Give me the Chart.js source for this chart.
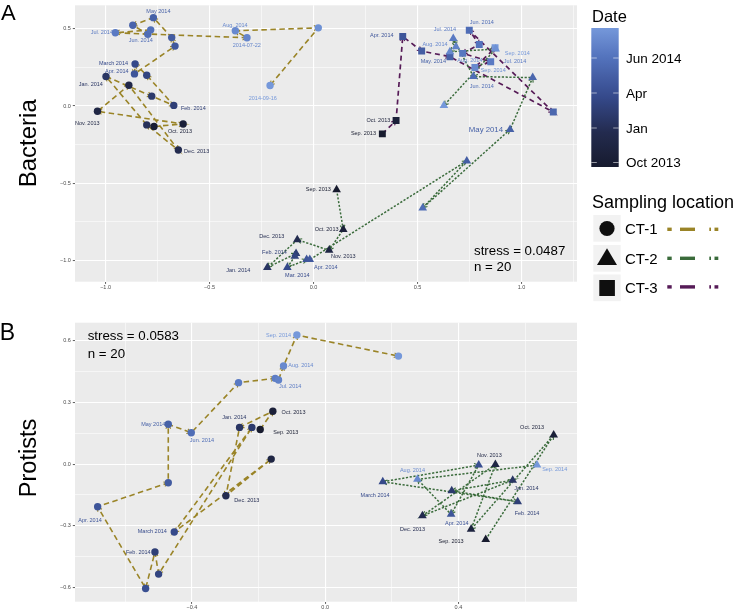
<!DOCTYPE html>
<html>
<head>
<meta charset="utf-8">
<script src="https://cdn.jsdelivr.net/npm/chart.js@4.4.1/dist/chart.umd.min.js"></script>
<style>
  body { margin: 0; width: 738px; height: 609px; overflow: hidden; background: #fff; position: relative; font-family: "Liberation Sans", Arial, sans-serif; }
  canvas { position: absolute; left: 0; }
  #bacteria { top: 0; }
  #protists { top: 300px; }
  #overlay { position: absolute; left: 0; top: 0; pointer-events: none; }
  #overlay text { font-family: "Liberation Sans", Arial, sans-serif; }
</style>
</head>
<body>
<canvas id="bacteria" width="738" height="300"></canvas>
<canvas id="protists" width="738" height="320"></canvas>

<svg id="overlay" width="738" height="609">
  <defs><linearGradient id="dateBar" x1="0" y1="1" x2="0" y2="0"></linearGradient></defs>
  <text x="8.3" y="12.8" font-size="22" text-anchor="middle" dominant-baseline="central">A</text>
  <text x="7.5" y="332.3" font-size="23" text-anchor="middle" dominant-baseline="central">B</text>
  <text transform="translate(27,143.3) rotate(-90)" font-size="24" text-anchor="middle" dominant-baseline="central">Bacteria</text>
  <text transform="translate(27.5,458) rotate(-90)" font-size="23.5" text-anchor="middle" dominant-baseline="central">Protists</text>

  <text x="474" y="250.7" font-size="13.3" dominant-baseline="central">stress = 0.0487</text>
  <text x="474" y="266.7" font-size="13.3" dominant-baseline="central">n = 20</text>
  <text x="87.7" y="335.7" font-size="13.3" dominant-baseline="central">stress = 0.0583</text>
  <text x="87.7" y="353" font-size="13.3" dominant-baseline="central">n = 20</text>

  <!-- colour bar legend -->
  <text x="592" y="16" font-size="16.5" dominant-baseline="central">Date</text>
  <rect x="591.3" y="28" width="27.4" height="139" fill="url(#dateBar)"></rect>
  <g id="barTicks" stroke="rgba(255,255,255,0.55)" stroke-width="1"></g>
  <g id="barLabels" font-size="13.5"></g>

  <!-- shape / linetype legend -->
  <text x="592" y="202" font-size="18" dominant-baseline="central">Sampling location</text>
  <rect x="593.3" y="215" width="27.4" height="26.7" fill="#f2f2f2"></rect>
  <rect x="593.3" y="245" width="27.4" height="26.7" fill="#f2f2f2"></rect>
  <rect x="593.3" y="274.5" width="27.4" height="26.7" fill="#f2f2f2"></rect>
  <circle cx="607" cy="228.5" r="7.6" fill="#0f0f0f"></circle>
  <polygon points="597,265 617,265 607,248.3" fill="#0f0f0f"></polygon>
  <rect x="599.3" y="280" width="15.6" height="16" fill="#0f0f0f"></rect>
  <text x="625" y="228.8" font-size="15" dominant-baseline="central">CT-1</text>
  <text x="625" y="258.3" font-size="15" dominant-baseline="central">CT-2</text>
  <text x="625" y="287.5" font-size="15" dominant-baseline="central">CT-3</text>
  <g id="keyLines"></g>
</svg>

<script>
// ---- axis breaks (every other value is a labelled major, the rest minor grid) ----
const xBreaksA = [-1, -0.75, -0.5, -0.25, 0, 0.25, 0.5, 0.75, 1, 1.25];
const yBreaksA = [-1, -0.75, -0.5, -0.25, 0, 0.25, 0.5];
const xBreaksB = [-0.6, -0.4, -0.2, 0, 0.2, 0.4, 0.6];
const yBreaksB = [-0.6, -0.45, -0.3, -0.15, 0, 0.15, 0.3, 0.45, 0.6];
const xLimA = [-1.147, 1.267], yLimA = [-1.137, 0.652];
const xLimB = [-0.751, 0.756], yLimB = [-0.668, 0.686];

// dates are months since Sep 2013 (0) .. Sep 2014 (12)
// Bacteria NMDS
const bactCT1x = [-0.767, -0.627, -1.039, -0.888, -0.650, -0.802, -0.998, -0.778, -0.672, -0.802, -0.858, -0.861, -0.666, -0.682, -0.770, -0.869, -0.797, -0.783, -0.953, -0.320, -0.376, 0.023, -0.209];
const bactCT1y = [-0.132, -0.116, -0.034, 0.135, -0.285, -0.122, 0.191, 0.064, 0.004, 0.199, 0.272, 0.208, 0.388, 0.443, 0.572, 0.523, 0.465, 0.493, 0.474, 0.442, 0.487, 0.506, 0.133];
const bactCT1date = [0.5, 1, 2, 2.5, 3, 3.5, 4, 4.5, 5, 5.5, 6, 7, 7.3, 7.6, 8, 8.3, 9, 9.3, 10, 10.7, 11, 11.5, 12.5];

const bactCT2x = [0.111, 0.143, 0.075, -0.078, -0.222, -0.084, -0.090, -0.126, -0.033, -0.018, 0.737, 0.525, 0.945, 1.054, 0.769, 0.672, 0.685, 0.656, 0.876, 0.627];
const bactCT2y = [-0.542, -0.799, -0.934, -0.865, -1.045, -0.955, -0.973, -1.045, -0.994, -0.994, -0.355, -0.660, -0.152, 0.184, 0.191, 0.437, 0.384, 0.351, 0.369, 0.004];
const bactCT2date = [0, 1, 2, 3, 4, 5, 5.5, 6, 7, 7.3, 7.8, 9, 8, 8.5, 9, 10, 10.5, 11, 11.5, 12.5];

const bactCT3x = [0.331, 0.397, 0.429, 0.520, 0.656, 1.153, 0.749, 0.797, 0.717, 0.852, 0.776, 0.873];
const bactCT3y = [-0.180, -0.094, 0.450, 0.356, 0.319, -0.039, 0.491, 0.398, 0.341, 0.287, 0.249, 0.377];
const bactCT3date = [0, 1, 7, 7.8, 8, 8.5, 9, 9.5, 9.8, 10, 11, 12];

// Protists NMDS
const protCT1x = [-0.195, -0.157, -0.257, -0.298, -0.162, -0.453, -0.220, -0.500, -0.511, -0.539, -0.683, -0.471, -0.471, -0.402, -0.260, -0.150, -0.140, -0.125, -0.085, 0.220];
const protCT1y = [0.168, 0.256, 0.178, -0.154, 0.024, -0.330, 0.178, -0.534, -0.427, -0.604, -0.207, -0.091, 0.193, 0.152, 0.395, 0.416, 0.408, 0.476, 0.626, 0.524];
const protCT1date = [0, 1, 4, 3, 2, 6, 4.5, 5.5, 5, 6.5, 7, 7.5, 8, 9, 10, 10.2, 10.5, 11, 12, 12.5];

const protCT2x = [0.482, 0.686, 0.438, 0.511, 0.292, 0.563, 0.380, 0.578, 0.173, 0.461, 0.378, 0.277, 0.636];
const protCT2y = [-0.366, 0.141, -0.317, -0.002, -0.251, -0.078, -0.130, -0.183, -0.086, -0.005, -0.244, -0.074, -0.005];
const protCT2date = [0, 1, 1.5, 2, 3, 4, 4.5, 5, 6, 6.5, 7, 11, 12];

// point labels: text, x, y, date
const bactLabels = [
  ['May 2014', -0.746, 0.615, 8], ['Jul. 2014', -1.018, 0.474, 10], ['Jun. 2014', -0.831, 0.424, 9],
  ['Aug. 2014', -0.377, 0.523, 11], ['2014-07-22', -0.321, 0.395, 10.7], ['2014-09-16', -0.244, 0.049, 12.5],
  ['March 2014', -0.962, 0.274, 6], ['Apr. 2014', -0.946, 0.225, 7], ['Jan. 2014', -1.071, 0.141, 4],
  ['Feb. 2014', -0.578, -0.017, 5], ['Nov. 2013', -1.088, -0.116, 2], ['Oct. 2013', -0.642, -0.163, 1],
  ['Dec. 2013', -0.562, -0.291, 3],
  ['Sep. 2013', 0.023, -0.542, 0], ['Oct. 2013', 0.063, -0.801, 1], ['Nov. 2013', 0.143, -0.977, 2],
  ['Dec. 2013', -0.201, -0.842, 3], ['Feb. 2014', -0.188, -0.951, 5], ['Apr. 2014', 0.059, -1.043, 7],
  ['Mar. 2014', -0.078, -1.099, 6], ['Jan. 2014', -0.362, -1.067, 4], ['May 2014', 0.829, -0.156, 8],
  ['Jun. 2014', 0.809, 0.127, 9], ['Jul. 2014', 0.632, 0.497, 10], ['Aug. 2014', 0.584, 0.398, 11],
  ['Sep. 2014', 0.864, 0.227, 11.5],
  ['Apr. 2014', 0.328, 0.459, 7], ['Oct. 2013', 0.312, -0.094, 1], ['Sep. 2013', 0.240, -0.180, 0],
  ['Jun. 2014', 0.809, 0.540, 9], ['May. 2014', 0.576, 0.287, 8], ['Sep. 2014', 0.980, 0.341, 12],
  ['Jul. 2014', 0.969, 0.287, 10], ['Aug. 2014', 0.752, 0.298, 11]
];
const bactBigLabel = 21;  // the oversized "May 2014"

const protLabels = [
  ['Sep. 2014', -0.140, 0.626, 12], ['Aug. 2014', -0.073, 0.477, 11], ['Jul. 2014', -0.105, 0.375, 10],
  ['May 2014', -0.516, 0.193, 8], ['Jun. 2014', -0.370, 0.113, 9], ['Jan. 2014', -0.273, 0.227, 4],
  ['Oct. 2013', -0.095, 0.248, 1], ['Sep. 2013', -0.118, 0.152, 0], ['Dec. 2013', -0.235, -0.176, 3],
  ['Apr. 2014', -0.706, -0.272, 7], ['March 2014', -0.519, -0.329, 6], ['Feb. 2014', -0.561, -0.427, 5],
  ['Oct. 2013', 0.621, 0.176, 1], ['Nov. 2013', 0.493, 0.040, 2], ['Sep. 2014', 0.689, -0.024, 12],
  ['Aug. 2014', 0.262, -0.032, 11], ['Jan. 2014', 0.604, -0.118, 4], ['March 2014', 0.150, -0.154, 6],
  ['Feb. 2014', 0.606, -0.239, 5], ['Apr. 2014', 0.395, -0.290, 7], ['Dec. 2013', 0.262, -0.316, 3],
  ['Sep. 2013', 0.378, -0.374, 0]
];

// colour bar ticks
const barTickLabels = ['Jun 2014', 'Apr', 'Jan', 'Oct 2013'];
const barTickY = [58, 93, 128, 162.5];

// ---- styles ----
const locStyle = {
  'CT-1': { shape: 'circle', radius: 3.7, line: '#9a8427', dash: [5.5, 3.5], width: 1.6 },
  'CT-2': { shape: 'triangle', radius: 5, line: '#3a6b3b', dash: [2.2, 1.6], width: 1.5 },
  'CT-3': { shape: 'rect', radius: 4.9, line: '#561b57', dash: [5, 3.8], width: 1.7 }
};
const dateStops = [[0, [23, 27, 46]], [0.25, [35, 43, 79]], [0.5, [53, 73, 138]], [0.78, [82, 113, 187]], [1, [117, 152, 218]]];

function dateColor(d) {
  const f = Math.max(0, Math.min(1, d / 12));
  for (let i = 1; i < dateStops.length; i++) {
    if (f <= dateStops[i][0]) {
      const [f0, c0] = dateStops[i - 1], [f1, c1] = dateStops[i];
      const t = (f - f0) / (f1 - f0);
      return 'rgb(' + c0.map((c, k) => Math.round(c + (c1[k] - c) * t)).join(',') + ')';
    }
  }
  return 'rgb(' + dateStops[dateStops.length - 1][1].join(',') + ')';
}

const isMajor = (v, step) => Math.abs(v / step - Math.round(v / step)) < 1e-6;
const fmt = v => v.toFixed(1).replace('-', '\u2212');
const toPoints = (xs, ys) => xs.map((x, i) => ({ x: x, y: ys[i] }));

function drawArrows(chart, ds) {
  const ctx = chart.ctx, sx = chart.scales.x, sy = chart.scales.y;
  ctx.save();
  ctx.strokeStyle = ds.borderColor;
  ctx.lineWidth = 1.1;
  ctx.setLineDash([]);
  for (let i = 1; i < ds.data.length; i++) {
    const x0 = sx.getPixelForValue(ds.data[i - 1].x), y0 = sy.getPixelForValue(ds.data[i - 1].y);
    const x1 = sx.getPixelForValue(ds.data[i].x), y1 = sy.getPixelForValue(ds.data[i].y);
    const a = Math.atan2(y1 - y0, x1 - x0);
    ctx.beginPath();
    ctx.moveTo(x1 - 5 * Math.cos(a - 0.5), y1 - 5 * Math.sin(a - 0.5));
    ctx.lineTo(x1, y1);
    ctx.lineTo(x1 - 5 * Math.cos(a + 0.5), y1 - 5 * Math.sin(a + 0.5));
    ctx.stroke();
  }
  ctx.restore();
}

function drawLabels(chart, labels, bigIndex) {
  const ctx = chart.ctx, sx = chart.scales.x, sy = chart.scales.y;
  ctx.save();
  ctx.textAlign = 'center';
  ctx.textBaseline = 'middle';
  labels.forEach(([text, x, y, d], i) => {
    ctx.font = (i === bigIndex ? 7.8 : 5.5) + 'px "Liberation Sans"';
    ctx.fillStyle = dateColor(d);
    ctx.fillText(text, sx.getPixelForValue(x), sy.getPixelForValue(y));
  });
  ctx.restore();
}

function makePanel(id, series, labels, bigIndex, breaksX, breaksY, stepX, stepY, limX, limY, padTop) {
  const datasets = [];
  series.forEach(s => {
    const st = locStyle[s.loc];
    datasets.push({ data: toPoints(s.x, s.y), showLine: true, pointRadius: 0, borderColor: st.line,
      borderWidth: st.width, borderDash: st.dash, order: 1, isPath: true });
  });
  series.forEach(s => {
    const st = locStyle[s.loc], cols = s.date.map(dateColor);
    datasets.push({ data: toPoints(s.x, s.y), showLine: false, pointStyle: st.shape, pointRadius: st.radius,
      pointBackgroundColor: cols, pointBorderColor: cols, pointBorderWidth: 0, order: 0 });
  });

  const decor = {
    id: 'decor' + id,
    beforeDraw(chart) {
      const a = chart.chartArea, ctx = chart.ctx;
      ctx.save();
      ctx.fillStyle = '#ebebeb';
      ctx.fillRect(a.left, a.top, a.right - a.left, a.bottom - a.top);
      ctx.restore();
    },
    afterDatasetDraw(chart, args) {
      const ds = chart.data.datasets[args.index];
      if (!ds.isPath) return;
      drawArrows(chart, ds);
      if (args.index === 0) drawLabels(chart, labels, bigIndex);
    }
  };

  const axis = (breaks, step, lim, isX) => ({
    type: 'linear', min: lim[0], max: lim[1],
    afterBuildTicks: s => { s.ticks = breaks.map(v => ({ value: v })); },
    afterFit: s => { if (isX) s.height = 18; else s.width = 30; },
    border: { display: false },
    grid: {
      color: '#ffffff',
      lineWidth: c => (c.tick && isMajor(c.tick.value, step)) ? 1.1 : 0.55,
      tickColor: c => (c.tick && isMajor(c.tick.value, step)) ? '#333333' : 'rgba(0,0,0,0)',
      tickLength: 2.2, tickWidth: 0.8
    },
    ticks: {
      autoSkip: false, maxRotation: 0, padding: isX ? 0 : 2, color: '#4d4d4d',
      font: { size: 5.5, family: 'Liberation Sans' },
      callback: v => isMajor(v, step) ? fmt(v) : ''
    }
  });

  return new Chart(document.getElementById(id), {
    type: 'scatter',
    data: { datasets: datasets },
    options: {
      responsive: false, animation: false, devicePixelRatio: 1, events: [],
      layout: { padding: { left: 45, right: 161, top: padTop, bottom: 0.3 } },
      plugins: { legend: { display: false }, tooltip: { enabled: false } },
      scales: { x: axis(breaksX, stepX, limX, true), y: axis(breaksY, stepY, limY, false) }
    },
    plugins: [decor]
  });
}

makePanel('bacteria', [
  { loc: 'CT-1', x: bactCT1x, y: bactCT1y, date: bactCT1date },
  { loc: 'CT-2', x: bactCT2x, y: bactCT2y, date: bactCT2date },
  { loc: 'CT-3', x: bactCT3x, y: bactCT3y, date: bactCT3date }
], bactLabels, bactBigLabel, xBreaksA, yBreaksA, 0.5, 0.5, xLimA, yLimA, 3.3);

makePanel('protists', [
  { loc: 'CT-1', x: protCT1x, y: protCT1y, date: protCT1date },
  { loc: 'CT-2', x: protCT2x, y: protCT2y, date: protCT2date }
], protLabels, -1, xBreaksB, yBreaksB, 0.4, 0.3, xLimB, yLimB, 22.7);

// ---- legend pieces built from the same colour scale ----
const NS = 'http://www.w3.org/2000/svg';
const grad = document.getElementById('dateBar');
for (let i = 0; i <= 20; i++) {
  const stop = document.createElementNS(NS, 'stop');
  stop.setAttribute('offset', (i / 20).toFixed(2));
  stop.setAttribute('stop-color', dateColor(i / 20 * 12));
  grad.appendChild(stop);
}
const tickG = document.getElementById('barTicks'), labG = document.getElementById('barLabels');
barTickLabels.forEach((t, i) => {
  [[591.3, 596.8], [613.2, 618.7]].forEach(([a, b]) => {
    const l = document.createElementNS(NS, 'line');
    l.setAttribute('x1', a); l.setAttribute('x2', b);
    l.setAttribute('y1', barTickY[i]); l.setAttribute('y2', barTickY[i]);
    tickG.appendChild(l);
  });
  const tx = document.createElementNS(NS, 'text');
  tx.setAttribute('x', 626); tx.setAttribute('y', barTickY[i]);
  tx.setAttribute('dominant-baseline', 'central');
  tx.textContent = t;
  labG.appendChild(tx);
});
const keyG = document.getElementById('keyLines');
[['CT-1', 229.3], ['CT-2', 258.3], ['CT-3', 286.9]].forEach(([loc, y]) => {
  [[667.3, 671.7], [680, 695], [709.3, 711], [714.5, 718.3]].forEach(([a, b]) => {
    const r = document.createElementNS(NS, 'rect');
    r.setAttribute('x', a); r.setAttribute('width', b - a);
    r.setAttribute('y', y - 1.7); r.setAttribute('height', 3.4);
    r.setAttribute('fill', locStyle[loc].line);
    keyG.appendChild(r);
  });
});
</script>
</body>
</html>
